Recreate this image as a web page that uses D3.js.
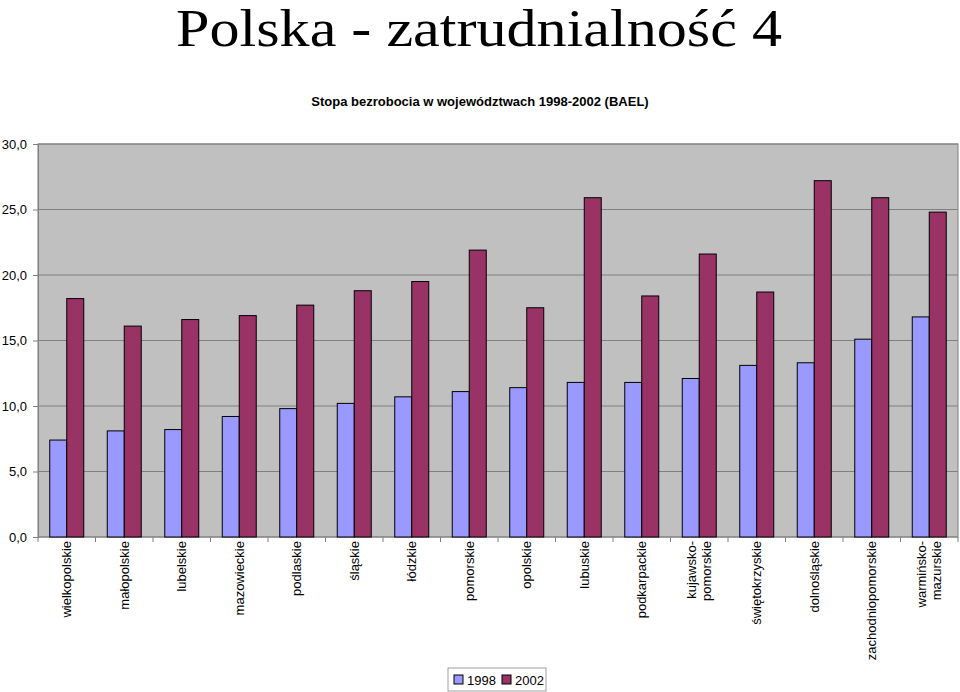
<!DOCTYPE html>
<html><head><meta charset="utf-8">
<script src="https://cdn.jsdelivr.net/npm/d3@7"></script>
<style>body{margin:0;background:#fff;}svg{display:block;}</style>
</head><body>
<script>
const categories = [["wielkopolskie"],["małopolskie"],["lubelskie"],["mazowieckie"],["podlaskie"],["śląskie"],["łódzkie"],["pomorskie"],["opolskie"],["lubuskie"],["podkarpackie"],["kujawsko-","pomorskie"],["świętokrzyskie"],["dolnośląskie"],["zachodniopomorskie"],["warmińsko-","mazurskie"]];
const series = ["1998","2002"];
const values1998 = [7.4,8.1,8.2,9.2,9.8,10.2,10.7,11.1,11.4,11.8,11.8,12.1,13.1,13.3,15.1,16.8];
const values2002 = [18.2,16.1,16.6,16.9,17.7,18.8,19.5,21.9,17.5,25.9,18.4,21.6,18.7,27.2,25.9,24.8];
const yTicks = [0,5,10,15,20,25,30];
const colors = ["#9999ff","#993366"];

const W=960,H=692;
const svg=d3.select("body").append("svg").attr("width",W).attr("height",H);
const L=38,R=958,T=144,B=537;
const keys=categories.map((c,i)=>i);
const x=d3.scaleBand().domain(keys).range([L,R]);
const y=d3.scaleLinear().domain([0,30]).range([B,T]);
const groupW=34;
const x1=d3.scaleBand().domain(series).range([0,groupW]);

svg.append("text").attr("x",176).attr("y",46)
 .attr("textLength",606).attr("lengthAdjust","spacingAndGlyphs")
 .attr("font-family","'Liberation Serif','Times New Roman',serif").attr("font-size",52).text("Polska - zatrudnialność 4");
svg.append("text").attr("x",480).attr("y",106).attr("text-anchor","middle")
 .attr("font-family","'Liberation Sans',Arial,sans-serif").attr("font-weight","bold").attr("font-size",13).text("Stopa bezrobocia w województwach 1998-2002 (BAEL)");

svg.append("rect").attr("x",L).attr("y",T).attr("width",R-L).attr("height",B-T).attr("fill","#c0c0c0").attr("stroke","#808080");
svg.append("g").selectAll("line").data(yTicks.slice(1)).join("line")
 .attr("x1",L).attr("x2",R).attr("y1",d=>y(d)).attr("y2",d=>y(d)).attr("stroke","#808080").attr("stroke-width",1);

const yAxis=svg.append("g").attr("transform",`translate(${L},0)`)
 .call(d3.axisLeft(y).tickValues(yTicks).tickSize(5).tickPadding(6).tickFormat(d=>d3.format(".1f")(d).replace(".",",")));
yAxis.select(".domain").attr("stroke","#808080");
yAxis.selectAll(".tick line").attr("stroke","#808080");
yAxis.selectAll("text").attr("font-family","'Liberation Sans',Arial,sans-serif").attr("font-size",13).attr("fill","#000");

const bounds=keys.map(k=>x(k)).concat([R]);
svg.append("g").selectAll("line").data(bounds).join("line")
 .attr("x1",d=>d).attr("x2",d=>d).attr("y1",B).attr("y2",B+5).attr("stroke","#808080");
svg.append("line").attr("x1",L).attr("x2",R).attr("y1",B).attr("y2",B).attr("stroke","#808080");

const g=svg.append("g").selectAll("g").data(keys).join("g")
 .attr("transform",k=>`translate(${x(k)+x.bandwidth()/2-groupW/2},0)`);
g.selectAll("rect").data(k=>[values1998[k],values2002[k]].map((v,i)=>({v,s:series[i],i}))).join("rect")
 .attr("x",d=>x1(d.s)).attr("width",x1.bandwidth()).attr("y",d=>y(d.v)).attr("height",d=>B-y(d.v))
 .attr("fill",d=>colors[d.i]).attr("stroke","#000").attr("stroke-width",1);

const lab=svg.append("g").selectAll("text").data(keys).join("text")
 .attr("transform",k=>`translate(${x(k)+x.bandwidth()/2},${B+4}) rotate(-90)`)
 .attr("text-anchor","end").attr("font-family","'Liberation Sans',Arial,sans-serif").attr("font-size",13);
lab.each(function(k){
  const lines=categories[k];
  const t=d3.select(this);
  lines.forEach((s,j)=>{
    t.append("tspan").attr("x",0).attr("y",(j-(lines.length-1)/2)*15).attr("dy","0.35em").text(s);
  });
});

const lg=svg.append("g").attr("transform","translate(448,668)");
lg.append("rect").attr("width",98).attr("height",23).attr("fill","#fff").attr("stroke","#a0a0a0");
series.forEach((s,i)=>{
  const xo=6+i*48;
  lg.append("rect").attr("x",xo).attr("y",7).attr("width",9).attr("height",9).attr("fill",colors[i]).attr("stroke","#000");
  lg.append("text").attr("x",xo+13).attr("y",16.5).attr("font-family","'Liberation Sans',Arial,sans-serif").attr("font-size",13).text(s);
});
</script>
</body></html>
